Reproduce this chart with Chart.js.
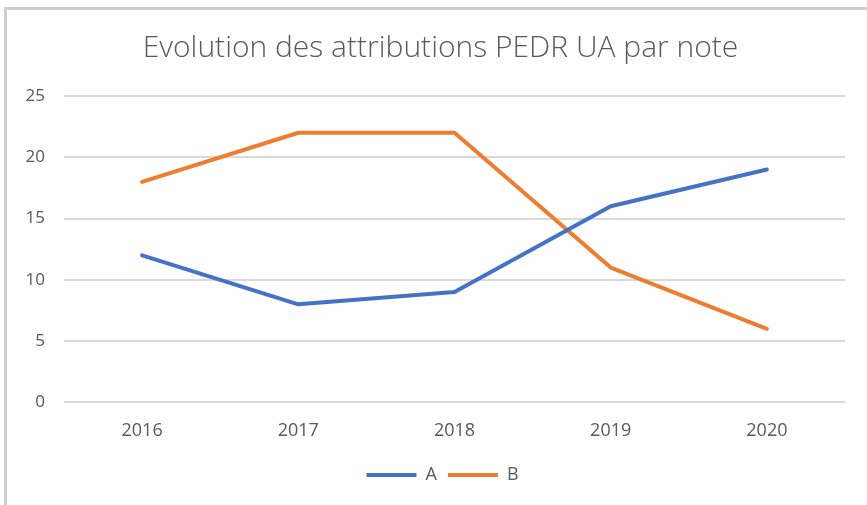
<!DOCTYPE html>
<html>
<head>
<meta charset="utf-8">
<script src="https://cdn.jsdelivr.net/npm/chart.js@4.4.0/dist/chart.umd.min.js"></script>
<style>
    body { margin: 0; background: #ffffff; }
    #wrap { position: relative; width: 867px; height: 505px; }
    #frame {
        position: absolute; left: 4px; top: 7px; right: 0; bottom: 0;
        border-top: 3px solid #cfcfcf; border-left: 3px solid #cfcfcf;
        pointer-events: none;
    }
</style>
</head>
<body>
<div id="wrap">
    <canvas id="lineChart" width="867" height="505"></canvas>
    <div id="frame"></div>
</div>
<script>
// chart data
const years = ['2016', '2017', '2018', '2019', '2020'];
const seriesA = [12, 8, 9, 16, 19];
const seriesB = [18, 22, 22, 11, 6];
const yTicks = [0, 5, 10, 15, 20, 25];

const textColor = '#595959';

// Excel centres title and legend on the whole frame, not on the plot area,
// so nudge them a bit after layout
const blockNudge = {
    id: 'blockNudge',
    afterLayout(chart) {
        const t = chart.titleBlock;
        if (t) {
            t.left += 14;
            t.right += 14;
        }
        const lg = chart.legend;
        if (lg) {
            lg.left += 16;
            lg.right += 16;
            lg.top -= 5;
            lg.bottom -= 5;
        }
    }
};

const ctx = document.getElementById('lineChart').getContext('2d');

new Chart(ctx, {
    type: 'line',
    data: {
        labels: years,
        datasets: [
            {
                label: 'A',
                data: seriesA,
                borderColor: '#4472c4',
                backgroundColor: '#4472c4',
                borderWidth: 4,
                borderCapStyle: 'round',
                borderJoinStyle: 'round',
                pointRadius: 0,
                tension: 0
            },
            {
                label: 'B',
                data: seriesB,
                borderColor: '#ed7d31',
                backgroundColor: '#ed7d31',
                borderWidth: 4,
                borderCapStyle: 'round',
                borderJoinStyle: 'round',
                pointRadius: 0,
                tension: 0
            }
        ]
    },
    options: {
        responsive: false,
        animation: false,
        layout: {
            padding: { left: 8, right: 22, top: 0, bottom: 6 }
        },
        plugins: {
            title: {
                display: true,
                text: 'Evolution des attributions PEDR UA par note',
                color: textColor,
                font: { family: 'Open Sans', size: 30, weight: 300 },
                padding: { top: 30, bottom: 30 }
            },
            legend: {
                display: true,
                position: 'bottom',
                labels: {
                    usePointStyle: true,
                    pointStyle: 'line',
                    pointStyleWidth: 50,
                    color: textColor,
                    font: { family: 'Open Sans', size: 18 },
                    padding: 11
                }
            },
            tooltip: { enabled: false }
        },
        scales: {
            x: {
                offset: true,
                grid: { display: false, drawTicks: false },
                border: { display: false },
                ticks: {
                    color: textColor,
                    font: { family: 'Open Sans', size: 18 },
                    padding: 18
                }
            },
            y: {
                min: 0,
                max: 25,
                afterBuildTicks: (scale) => {
                    scale.ticks = yTicks.map(v => ({ value: v }));
                },
                afterFit: (scale) => { scale.width = 56; },
                grid: { color: '#d9d9d9', lineWidth: 2, drawTicks: false },
                border: { display: false },
                ticks: {
                    color: textColor,
                    font: { family: 'Open Sans', size: 17 },
                    padding: 19
                }
            }
        }
    },
    plugins: [blockNudge]
});
</script>
</body>
</html>
